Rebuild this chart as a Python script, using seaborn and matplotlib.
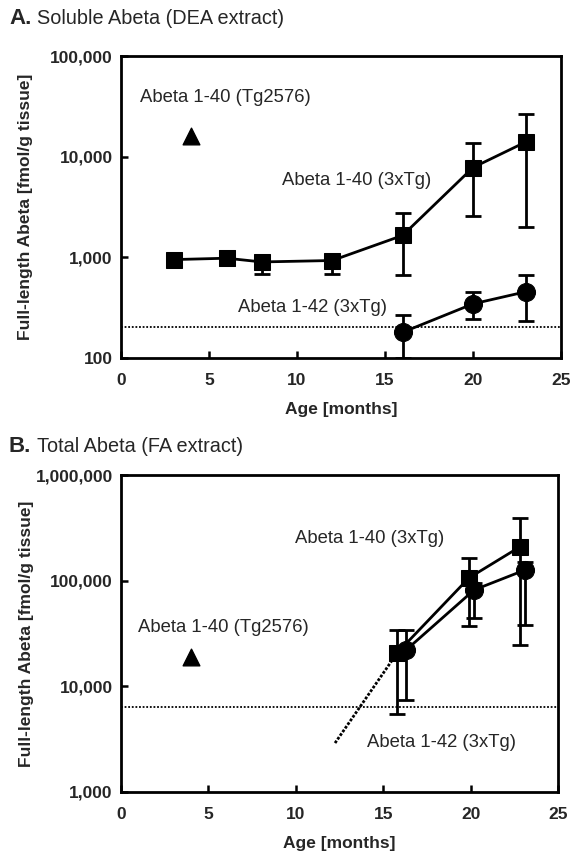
import numpy as np
import pandas as pd
import matplotlib
matplotlib.use("Agg")
import matplotlib.pyplot as plt
import seaborn as sns

# ---------------- data ----------------
# Panel A: soluble Abeta (DEA extract)
a40_age = [3, 6, 8, 12, 16, 20, 23]
a40_mean = [950, 980, 900, 930, 1650, 7800, 14000]
a40_lo = [900, 840, 690, 690, 660, 2600, 2000]
a40_hi = [1000, 1150, 1000, 1000, 2750, 13600, 26500]

a42_age = [16, 20, 23]
a42_mean = [180, 345, 455]
a42_lo = [100, 245, 235]
a42_hi = [270, 455, 660]

a_tg_age = [4]
a_tg_val = [16000]
a_detect = 205

# Panel B: total Abeta (FA extract)
b40_age = [15.8, 19.9, 22.8]
b40_mean = [20700, 106000, 208000]
b40_lo = [5500, 37000, 24600]
b40_hi = [34000, 164000, 392000]

b42_age = [16.3, 20.2, 23.1]
b42_mean = [22000, 81700, 126000]
b42_lo = [7400, 44000, 38000]
b42_hi = [34000, 95000, 150000]

b_tg_age = [4]
b_tg_val = [19000]
b_detect = 6400
b_extrap_age = [15.8, 12.24]
b_extrap_val = [20700, 2900]

x_ticks = [0, 5, 10, 15, 20, 25]
a_yticks = [100, 1000, 10000, 100000]
a_ylabels = ["100", "1,000", "10,000", "100,000"]
b_yticks = [1000, 10000, 100000, 1000000]
b_ylabels = ["1,000", "10,000", "100,000", "1,000,000"]

# ---------------- style ----------------
sns.set_theme(style="ticks")
plt.rcParams["font.family"] = ["Liberation Sans", "DejaVu Sans"]

W, H = 573, 857
fig = plt.figure(figsize=(W / 100, H / 100), dpi=100)

def px_axes(left, top, right, bottom):
    return fig.add_axes([left / W, 1 - bottom / H, (right - left) / W, (bottom - top) / H])

axA = px_axes(121, 56, 561, 358)
axB = px_axes(121, 475, 558, 792)

def series(ax, age, mean, lo, hi, marker, ms):
    df = pd.DataFrame({"age": age, "val": mean})
    yerr = np.array([np.array(mean) - np.array(lo), np.array(hi) - np.array(mean)])
    ax.errorbar(age, mean, yerr=yerr, fmt="none", ecolor="black", elinewidth=2,
                capsize=6, capthick=2, zorder=2)
    sns.lineplot(data=df, x="age", y="val", ax=ax, color="black", lw=2,
                 marker=marker, markersize=ms, markeredgecolor="black",
                 markerfacecolor="black", zorder=3, estimator=None, sort=False)

def single(ax, age, val, marker, ms):
    df = pd.DataFrame({"age": age, "val": val})
    sns.scatterplot(data=df, x="age", y="val", ax=ax, color="black",
                    marker=marker, s=ms ** 2, edgecolor="black", linewidth=1, zorder=3)

def style_axes(ax, yticks, ylabels, ylim):
    ax.set_yscale("log")
    ax.set_xlim(0, 25)
    ax.set_ylim(*ylim)
    ax.set_xticks(x_ticks)
    ax.set_xticklabels([str(t) for t in x_ticks], fontsize=12.5, fontweight="bold")
    ax.set_yticks(yticks)
    ax.set_yticklabels(ylabels, fontsize=12.5, fontweight="bold")
    ax.yaxis.set_minor_locator(matplotlib.ticker.NullLocator())
    ax.tick_params(axis="both", direction="in", length=5, width=1.8, color="black")
    ax.tick_params(axis="x", pad=11)
    ax.tick_params(axis="y", pad=6)
    for s in ax.spines.values():
        s.set_visible(True)
        s.set_linewidth(2)
        s.set_color("black")
    ax.set_xlabel("Age [months]", fontsize=12.5, fontweight="bold", labelpad=10)
    ax.set_ylabel("Full-length Abeta [fmol/g tissue]", fontsize=12.5, fontweight="bold")
    ax.yaxis.set_label_coords(-0.2, 0.5)

lab_fs = 13.3

# Panel A
axA.axhline(a_detect, color="black", lw=1.3, ls=(0, (1, 1)), zorder=1)
series(axA, a40_age, a40_mean, a40_lo, a40_hi, "s", 12)
series(axA, a42_age, a42_mean, a42_lo, a42_hi, "o", 13)
single(axA, a_tg_age, a_tg_val, "^", 12)
style_axes(axA, a_yticks, a_ylabels, (100, 100000))
axA.text(1.07, 39000, "Abeta 1-40 (Tg2576)", fontsize=lab_fs, va="center", ha="left")
axA.text(9.13, 5830, "Abeta 1-40 (3xTg)", fontsize=lab_fs, va="center", ha="left")
axA.text(6.65, 314, "Abeta 1-42 (3xTg)", fontsize=lab_fs, va="center", ha="left")

# Panel B
axB.axhline(b_detect, color="black", lw=1.3, ls=(0, (1, 1)), zorder=1)
axB.plot(b_extrap_age, b_extrap_val, color="black", lw=2, ls=(0, (1, 0.6)), zorder=1)
series(axB, b40_age, b40_mean, b40_lo, b40_hi, "s", 12)
series(axB, b42_age, b42_mean, b42_lo, b42_hi, "o", 13)
single(axB, b_tg_age, b_tg_val, "^", 12)
style_axes(axB, b_yticks, b_ylabels, (1000, 1000000))
axB.text(9.95, 253000, "Abeta 1-40 (3xTg)", fontsize=lab_fs, va="center", ha="left")
axB.text(0.97, 35700, "Abeta 1-40 (Tg2576)", fontsize=lab_fs, va="center", ha="left")
axB.text(14.07, 2920, "Abeta 1-42 (3xTg)", fontsize=lab_fs, va="center", ha="left")

# Panel titles
fig.text(9 / W, 1 - 18 / H, "A.", fontsize=16, fontweight="heavy", va="center", ha="left")
fig.text(37 / W, 1 - 18 / H, "Soluble Abeta (DEA extract)", fontsize=14.3, va="center", ha="left")
fig.text(9 / W, 1 - 447 / H, "B.", fontsize=16, fontweight="heavy", va="center", ha="left")
fig.text(37 / W, 1 - 447 / H, "Total Abeta (FA extract)", fontsize=14.3, va="center", ha="left")

fig.savefig("out.png", dpi=100)
